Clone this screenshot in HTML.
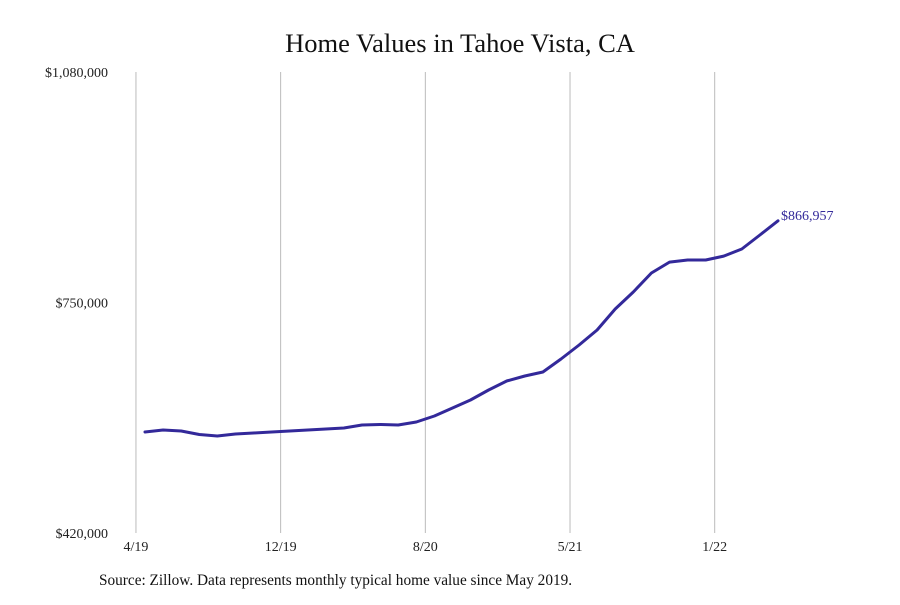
<!DOCTYPE html>
<html><head><meta charset="utf-8"><style>
body{margin:0;background:#fff;}
svg text{font-family:"Liberation Serif",serif;}
</style></head><body>
<svg width="900" height="600" xmlns="http://www.w3.org/2000/svg">
<text x="460" y="52" text-anchor="middle" font-size="26.5" fill="#111">Home Values in Tahoe Vista, CA</text>
<g id="grid"></g><g id="yaxis"></g><g id="xaxis"></g><g id="series"></g>
<text x="99" y="585" font-size="15.3" fill="#111">Source: Zillow. Data represents monthly typical home value since May 2019.</text>
</svg>
<script>
const values=[564600,567500,566000,561000,558900,561700,563200,564600,566000,567500,568900,570300,574600,575300,574600,578900,587500,599000,610400,624700,637600,644800,650500,669100,689200,710600,740700,765000,792200,807900,810800,810800,816500,826600,846600,866957];
const xTickLabels=["4/19","12/19","8/20","5/21","1/22"];
const xTickIdx=[-0.5,7.5,15.5,23.5,31.5];
const yTicks=[420000,750000,1080000];
const yTickLabels=["$420,000","$750,000","$1,080,000"];
const endLabel="$866,957";
const NS="http://www.w3.org/2000/svg";
const yMin=420000,yMax=1080000,plotTop=72,plotBot=533;
const yS=v=>plotBot-(v-yMin)/(yMax-yMin)*(plotBot-plotTop);
const xS=i=>145+i*(778-145)/(values.length-1);
function mk(t,a,p){const e=document.createElementNS(NS,t);for(const k in a)e.setAttribute(k,a[k]);p.appendChild(e);return e;}
const gGrid=document.getElementById('grid'),gX=document.getElementById('xaxis'),gY=document.getElementById('yaxis'),gS=document.getElementById('series');
xTickIdx.forEach((t,j)=>{
 const l=mk('line',{x1:xS(t),x2:xS(t),y1:plotTop,y2:plotBot,stroke:'#bbb','stroke-width':1},gGrid);
 
 
 const tx=mk('text',{x:xS(t),y:551,'text-anchor':'middle','font-size':14,fill:'#222'},gX);
 tx.textContent=xTickLabels[j];
 
 
});
yTicks.forEach((v,j)=>{
 const tx=mk('text',{x:108,y:yS(v)+5,'text-anchor':'end','font-size':14,fill:'#222'},gY);
 tx.textContent=yTickLabels[j];
 
 
});
const pts=values.map((v,i)=>xS(i).toFixed(1)+','+yS(v).toFixed(1)).join(' ');
const pl=mk('polyline',{points:pts,fill:'none',stroke:'#33299a','stroke-width':3,'stroke-linejoin':'round','stroke-linecap':'round'},gS);


const li=values.length-1;
const el=mk('text',{x:xS(li)+3,y:yS(values[li])-1,'font-size':14,fill:'#33299a'},gS);
el.textContent=endLabel;


</script>
</body></html>
